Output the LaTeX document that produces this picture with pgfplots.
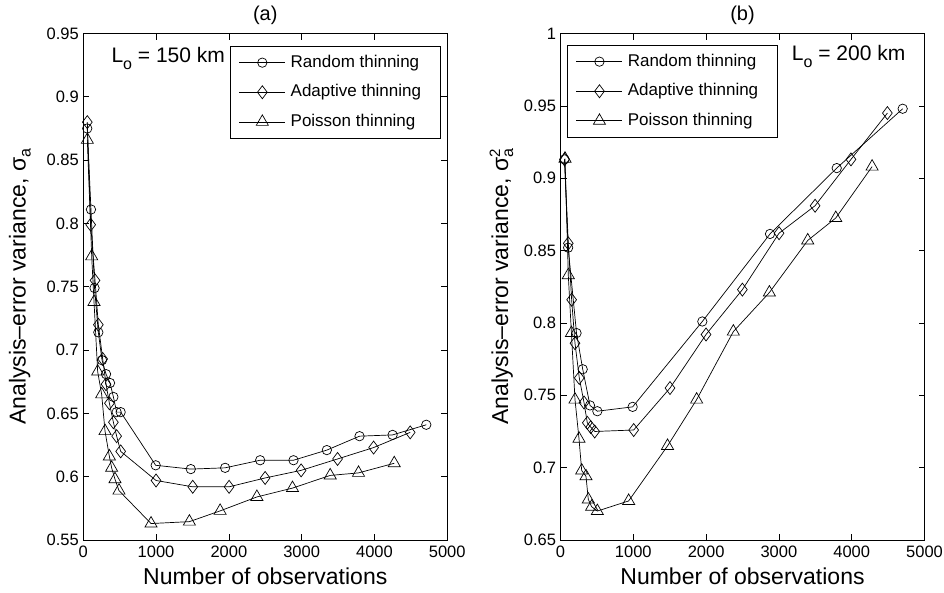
\documentclass[border=0pt]{standalone}
\usepackage{fontspec}
\setmainfont{Liberation Sans}
\usepackage{pgfplots}
\usepackage{pgfplotstable}
\pgfplotsset{compat=1.18}

\pgfplotstableread{
x y
55 0.875
106 0.811
155 0.749
207 0.714
258 0.692
313 0.681
368 0.674
414 0.663
459 0.651
514 0.651
995 0.609
1477 0.606
1949 0.607
2430 0.613
2888 0.613
3346 0.621
3795 0.632
4249 0.633
4712 0.641
}\ranA
\pgfplotstableread{
x y
56 0.880
102 0.799
162 0.755
207 0.720
267 0.693
313 0.673
359 0.658
414 0.643
459 0.632
514 0.620
1000 0.597
1504 0.592
2003 0.592
2498 0.599
2993 0.605
3493 0.614
3988 0.623
4491 0.635
}\adaA
\pgfplotstableread{
x y
56 0.866
116 0.774
148 0.738
198 0.683
253 0.665
299 0.636
359 0.616
390 0.607
436 0.598
491 0.589
931 0.563
1458 0.5645
1880 0.573
2385 0.584
2874 0.591
3392 0.601
3781 0.603
4272 0.6106
}\poiA
\pgfplotstableread{
x y
55 0.913
105 0.852
220 0.793
305 0.768
405 0.743
506 0.739
991 0.742
1948 0.801
2878 0.8615
3794 0.907
4700 0.948
}\ranB
\pgfplotstableread{
x y
55 0.913
107 0.855
153 0.816
199 0.786
258 0.762
323 0.745
368 0.731
415 0.728
470 0.725
1005 0.726
1504 0.755
1999 0.792
2498 0.823
3002 0.862
3497 0.881
3990 0.913
4490 0.945
}\adaB
\pgfplotstableread{
x y
62 0.9135
107 0.833
150 0.793
199 0.747
254 0.720
291 0.698
350 0.694
382 0.678
428 0.673
506 0.670
936 0.677
1470 0.715
1870 0.747
2374 0.794
2869 0.821
3396 0.857
3781 0.8725
4280 0.908
}\poiB

\pgfplotsset{
  myaxis/.style={
    scale only axis, width=364pt, height=506.5pt,
    xmin=0, xmax=5000, xtick={0,1000,2000,3000,4000,5000},
    scaled ticks=false, clip=false,
    /pgf/number format/assume math mode=true,
    /pgf/number format/1000 sep={},
    tick align=inside, major tick length=6pt,
    axis line style={line width=0.9pt},
    every tick/.style={black, line width=0.7pt},
    tick label style={font=\fontsize{16.5}{19}\selectfont},
    xticklabel style={yshift=-2pt},
    yticklabel style={xshift=-1pt},
    label style={font=\fontsize{23}{27}\selectfont},
    xlabel style={at={(axis description cs:0.5,-0.087)}, anchor=base},
    legend style={font=\fontsize{17}{20}\selectfont, draw=black, line width=0.8pt,
      inner xsep=9pt, inner ysep=8.6pt, row sep=13.6pt,
      nodes={inner sep=0pt, text height=12.5pt, text depth=3.5pt},
      cells={anchor=west}},
    legend image code/.code={\draw[mark repeat=2,mark phase=2,#1] plot coordinates {(0pt,0pt)(23pt,0pt)(46pt,0pt)};},
    /tikz/every odd column/.append style={column sep=5pt},
    every axis plot/.append style={black, line width=0.7pt, mark options={solid, fill=white, line width=0.7pt}},
  },
  ran/.style={mark=o, mark size=4.7pt},
  ada/.style={mark=diamond, mark size=6.5pt},
  poi/.style={mark=triangle, mark size=7pt},
}

\begin{document}
\begin{tikzpicture}[x=1pt,y=1pt]
\useasboundingbox (0,0) rectangle (944,592);
\begin{axis}[myaxis, at={(83.25pt,52pt)}, anchor=south west,
  ymin=0.55, ymax=0.95, ytick={0.55,0.6,0.65,0.7,0.75,0.8,0.85,0.9,0.95},
  xlabel={Number of observations},
  ylabel={Analysis--error variance, σ\raisebox{-5pt}{\fontsize{16}{16}\selectfont a}},
  ylabel style={at={(axis description cs:-0.174,0.5)}, anchor=center},
  legend style={at={(0.402,0.976)}, anchor=north west}]
\addplot[ran] table[x=x,y=y]{\ranA};
\addlegendentry{Random thinning}
\addplot[ada] table[x=x,y=y]{\adaA};
\addlegendentry{Adaptive thinning\hspace*{10pt}}
\addplot[poi] table[x=x,y=y]{\poiA};
\addlegendentry{Poisson thinning}
\node[anchor=base west, font=\fontsize{21}{24}\selectfont] at (rel axis cs:0.068,0.942) {L\raisebox{-7pt}{\fontsize{16}{16}\selectfont o} = 150 km};
\node[anchor=base, font=\fontsize{20}{24}\selectfont] at (rel axis cs:0.5,1.026) {(a)};
\end{axis}
\begin{axis}[myaxis, at={(560.5pt,52pt)}, anchor=south west,
  ymin=0.65, ymax=1, ytick={0.65,0.7,0.75,0.8,0.85,0.9,0.95,1},
  xlabel={Number of observations},
  ylabel={Analysis--error variance, σ\rlap{\raisebox{8pt}{\fontsize{15}{15}\selectfont 2}}\raisebox{-5pt}{\fontsize{16}{16}\selectfont a}},
  ylabel style={at={(axis description cs:-0.162,0.5)}, anchor=center},
  legend style={at={(0.017,0.978)}, anchor=north west}]
\addplot[ran] table[x=x,y=y]{\ranB};
\addlegendentry{Random thinning}
\addplot[ada] table[x=x,y=y]{\adaB};
\addlegendentry{Adaptive thinning\hspace*{10pt}}
\addplot[poi] table[x=x,y=y]{\poiB};
\addlegendentry{Poisson thinning}
\node[anchor=base west, font=\fontsize{21}{24}\selectfont] at (rel axis cs:0.626,0.947) {L\raisebox{-7pt}{\fontsize{16}{16}\selectfont o} = 200 km};
\node[anchor=base, font=\fontsize{20}{24}\selectfont] at (rel axis cs:0.5,1.026) {(b)};
\end{axis}
\end{tikzpicture}
\end{document}
